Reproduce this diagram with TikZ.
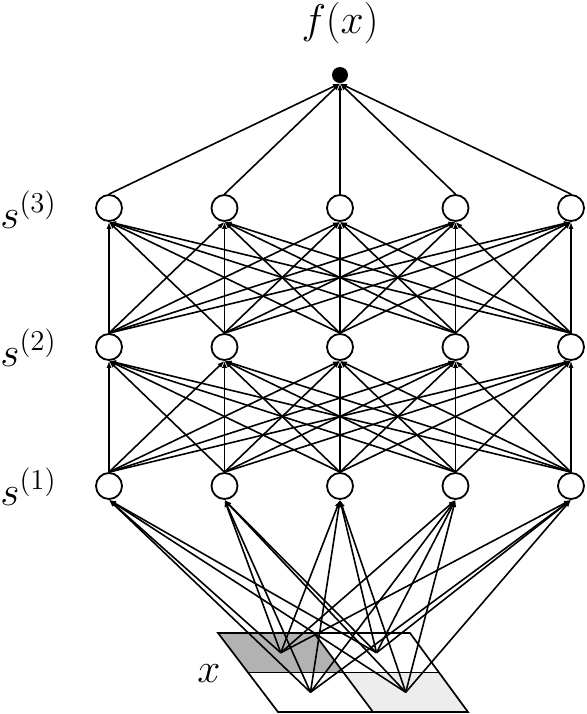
\documentclass[tikz,border=0pt]{standalone}
\usepackage{amsmath}
\usetikzlibrary{arrows.meta, positioning, calc}

\begin{document}
\begin{tikzpicture}[
        x=0.5pt, y=-0.5pt,
        unit/.style={circle, draw=black, line width=0.9pt, fill=white, minimum size=13pt, inner sep=0pt},
        outunit/.style={circle, fill=black, minimum size=8pt, inner sep=0pt},
        edge/.style={-{Latex[length=3.5pt, width=2.6pt]}, line width=0.8pt},
        grid/.style={draw=black, line width=0.85pt},
        lbl/.style={inner sep=0pt, font=\fontsize{19.5}{23}\selectfont}
    ]

    \useasboundingbox (0,0) rectangle (586,714);

    % Input x: 2x2 grid seen in perspective
    \coordinate (g00) at (218,633);
    \coordinate (g01) at (314,633);
    \coordinate (g02) at (410,633);
    \coordinate (g10) at (248,672.5);
    \coordinate (g11) at (343.5,672.5);
    \coordinate (g12) at (439,672.5);
    \coordinate (g20) at (278,712);
    \coordinate (g21) at (373,712);
    \coordinate (g22) at (468,712);

    \fill[black!30] (g00) -- (g01) -- (g11) -- (g10) -- cycle;
    \fill[black!7] (g11) -- (g12) -- (g22) -- (g21) -- cycle;
    \draw[grid] (g00) -- (g02) -- (g22) -- (g20) -- cycle;
    \draw[grid] (g10) -- (g12);
    \draw[grid] (g01) -- (g21);

    % Cell centres, where the input lines start
    \coordinate (c1) at ($(g00)!0.5!(g11)$);
    \coordinate (c2) at ($(g01)!0.5!(g12)$);
    \coordinate (c3) at ($(g10)!0.5!(g21)$);
    \coordinate (c4) at ($(g11)!0.5!(g22)$);

    \node[lbl, anchor=base west] (xlab) at (197,682) {$x$};

    % Hidden layers s(1), s(2), s(3)
    \foreach \l/\yy in {1/486, 2/347, 3/208}
        \foreach \i/\xx in {1/109, 2/224.5, 3/340, 4/455.5, 5/571}
            \node[unit] (s\l\i) at (\xx,\yy) {};

    \node[lbl, anchor=base west] (lab3) at (0,228) {$s^{(3)}$};
    \node[lbl, anchor=base west] (lab2) at (0,366) {$s^{(2)}$};
    \node[lbl, anchor=base west] (lab1) at (0,505) {$s^{(1)}$};

    % Output
    \node[outunit] (out) at (340,75) {};
    \node[lbl, anchor=base] (flab) at (340,33) {$f(x)$};

    % Input to first layer
    \foreach \k in {1,...,4}
        \foreach \i in {1,...,5}
            \draw[edge] (c\k) -- (s1\i.south);

    % Layer to layer, fully connected
    \foreach \l/\m in {1/2, 2/3}
        \foreach \i in {1,...,5}
            \foreach \j in {1,...,5}
                \draw[edge] (s\l\i.north) -- (s\m\j.south);

    % Last layer to output
    \foreach \i in {1,...,5}
        \draw[edge] (s3\i.north) -- (out.south);

\end{tikzpicture}
\end{document}
